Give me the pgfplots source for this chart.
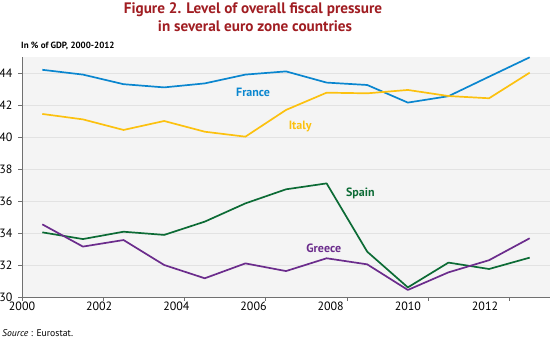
\documentclass[border=0pt]{standalone}
\usepackage{fontspec}
\setmainfont{PT Sans}
\usepackage{pgfplots}
\pgfplotsset{compat=1.18}
\definecolor{cfr}{HTML}{0A86CF}
\definecolor{cit}{HTML}{FCC10F}
\definecolor{ces}{HTML}{0C6B35}
\definecolor{cgr}{HTML}{6B2C8C}
\definecolor{ctitle}{HTML}{A01D22}
\definecolor{cbg}{HTML}{F4F4F4}
\definecolor{cgrid}{HTML}{E2E2E2}
\definecolor{caxis}{HTML}{707070}
\begin{document}
\begin{tikzpicture}
\path[use as bounding box] (0pt,0pt) rectangle (550pt,355pt);
\node[anchor=base, text=ctitle, font=\fontsize{15.2}{17}\selectfont\bfseries] at (253pt,341pt) {Figure 2. Level of overall fiscal pressure};
\node[anchor=base, text=ctitle, font=\fontsize{15.2}{17}\selectfont\bfseries] at (255pt,323.3pt) {in several euro zone countries};
\node[anchor=base west, inner sep=0pt, font=\fontsize{9}{10}\selectfont\bfseries] at (21pt,306pt) {In \% of GDP, 2000-2012};
\node[anchor=base west, inner sep=0pt, font=\fontsize{9.7}{11}\selectfont] at (2pt,18.3pt) {\textit{Source} : Eurostat.};
\begin{axis}[
  at={(22pt,58pt)}, anchor=south west,
  scale only axis, width=528pt, height=240pt,
  xmin=2000, xmax=2013, ymin=30, ymax=45,
  axis background/.style={fill=cbg},
  axis x line*=bottom, axis y line*=left,
  axis line style={caxis, line width=0.8pt, -},
  xtick={2000,2002,...,2012}, xticklabels={},
  extra x ticks={2000,2001.9,2003.8,2005.7,2007.6,2009.5,2011.4},
  extra x tick labels={2000,2002,2004,2006,2008,2010,2012},
  extra x tick style={major tick length=0pt, grid=none},
  ytick={30,32,...,44},
  ymajorgrids, grid style={cgrid, line width=0.7pt},
  major tick length=4pt, tick align=outside,
  tick style={caxis, line width=0.6pt},
  x tick label style={font=\fontsize{12}{14}\selectfont, yshift=-1pt},
  y tick label style={font=\fontsize{12}{14}\selectfont, xshift=-2pt},
  /pgf/number format/assume math mode=true,
  /pgf/number format/1000 sep={},
  clip=false,
  every axis plot/.append style={line width=1.7pt, line join=round},
]
\addplot[cfr] coordinates {(2000.5,44.2)(2001.5,43.9)(2002.5,43.3)(2003.5,43.1)(2004.5,43.35)(2005.5,43.9)(2006.5,44.1)(2007.5,43.4)(2008.5,43.25)(2009.5,42.15)(2010.5,42.55)(2011.5,43.77)(2012.5,44.98)};
\addplot[cit] coordinates {(2000.5,41.44)(2001.5,41.1)(2002.5,40.44)(2003.5,41.0)(2004.5,40.33)(2005.5,40.02)(2006.5,41.69)(2007.5,42.77)(2008.5,42.73)(2009.5,42.94)(2010.5,42.56)(2011.5,42.42)(2012.5,44.02)};
\addplot[ces] coordinates {(2000.5,34.04)(2001.5,33.62)(2002.5,34.08)(2003.5,33.88)(2004.5,34.71)(2005.5,35.85)(2006.5,36.73)(2007.5,37.1)(2008.5,32.83)(2009.5,30.6)(2010.5,32.15)(2011.5,31.75)(2012.5,32.46)};
\addplot[cgr] coordinates {(2000.5,34.54)(2001.5,33.15)(2002.5,33.56)(2003.5,32.0)(2004.5,31.17)(2005.5,32.1)(2006.5,31.62)(2007.5,32.42)(2008.5,32.04)(2009.5,30.44)(2010.5,31.54)(2011.5,32.3)(2012.5,33.67)};
\node[anchor=base, text=cfr, font=\fontsize{12}{14}\selectfont\bfseries] at (axis cs:2005.69,42.52) {France};
\node[anchor=base, text=cit, font=\fontsize{12}{14}\selectfont\bfseries] at (axis cs:2006.85,40.48) {Italy};
\node[anchor=base, text=ces, font=\fontsize{12}{14}\selectfont\bfseries] at (axis cs:2008.33,36.27) {Spain};
\node[anchor=base, text=cgr, font=\fontsize{12}{14}\selectfont\bfseries] at (axis cs:2007.43,32.81) {Greece};
\end{axis}
\end{tikzpicture}
\end{document}
